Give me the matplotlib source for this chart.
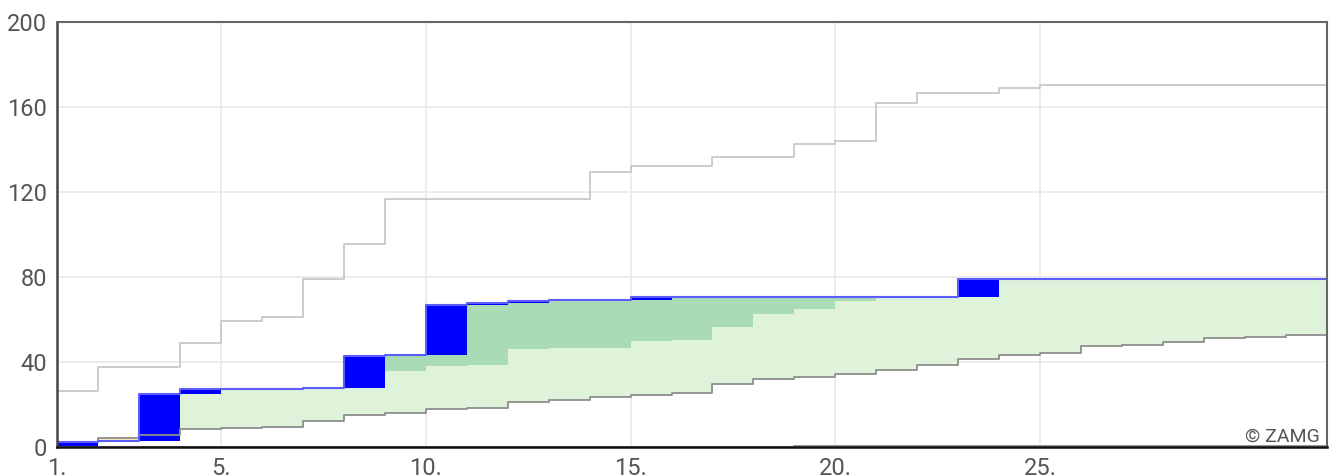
import matplotlib
matplotlib.use("Agg")
import matplotlib.pyplot as plt
import numpy as np

# Tage des Monats
days = np.arange(1, 32)

# aktuelle Niederschlagssumme (mm, kumuliert, Tagesende)
current = [2.5, 2.7, 24.8, 27.1, 27.4, 27.5, 27.6, 43.0, 43.1, 66.8,
           67.9, 68.7, 69.2, 69.4, 70.8, 70.8, 70.8, 70.8, 70.8, 70.8,
           70.8, 70.8, 79.1, 79.1, 79.1, 79.1, 79.1, 79.1, 79.1, 79.1, 79.1]

# Maximum (obere hellgraue Linie)
maximum = [26.2, 37.8, 37.8, 48.9, 59.3, 61.3, 79.2, 95.5, 116.7, 116.7,
           116.7, 116.7, 116.7, 129.3, 132.1, 132.1, 136.6, 136.6, 142.6, 144.1,
           161.9, 166.4, 166.4, 168.8, 170.5, 170.5, 170.5, 170.5, 170.5, 170.5, 170.5]

# Mittel (untere dunkelgraue Linie)
mean = [2.3, 4.4, 5.5, 8.3, 8.8, 9.3, 12.2, 15.1, 16.1, 17.7,
        18.2, 21.0, 22.0, 23.4, 24.5, 25.4, 29.5, 32.0, 32.9, 34.3,
        36.4, 38.7, 41.3, 43.3, 44.2, 47.4, 48.2, 49.4, 51.3, 51.9, 52.7]

# obere Grenze Normalbereich (nur als Flaechengrenze sichtbar)
upper = [6.0, 10.0, 14.0, 28.5, 29.5, 30.5, 32.0, 34.0, 35.9, 38.1,
         38.6, 46.1, 46.6, 46.6, 50.0, 50.5, 56.6, 62.5, 64.8, 68.6,
         72.0, 74.0, 77.0, 80.5, 82.5, 85.0, 87.0, 89.0, 91.0, 93.0, 95.0]

# Minimum (fast 0)
minimum = [0.0] * 18 + [0.6] * 13

xticks = [1, 5, 10, 15, 20, 25]
xlabels = ["1.", "5.", "10.", "15.", "20.", "25."]
yticks = [0, 40, 80, 120, 160, 200]

plt.rcParams['font.family'] = ['Roboto', 'DejaVu Sans']

cur = np.array(current)
mx = np.array(maximum)
mn = np.array(mean)
up = np.array(upper)
lo = np.array(minimum)
prev = np.concatenate([[0.0], cur[:-1]])

# step-Arrays bis Monatsende
xs = np.append(days, days[-1] + 1)
def ext(a):
    return np.append(a, a[-1])

fig = plt.figure(figsize=(13.35, 4.75), dpi=100)
ax = fig.add_axes([57 / 1335, 28 / 475, 1270 / 1335, 425 / 475])

ax.set_xlim(1, 32)
ax.set_ylim(0, 200)

for x in xticks[1:]:
    ax.axvline(x, color='#ebebeb', linewidth=1.3, zorder=0)
for y in yticks[1:-1]:
    ax.axhline(y, color='#ebebeb', linewidth=1.3, zorder=0)

# Flaechen
light_top = np.maximum(mn, np.minimum(cur, up))
ax.fill_between(xs, ext(mn), ext(light_top), step='post', color='#dff2da', linewidth=0, zorder=1)
ax.fill_between(xs, ext(up), ext(np.maximum(up, cur)), step='post', color='#a9dcb4', linewidth=0, zorder=1)
ax.fill_between(xs, ext(np.minimum(cur, mn)), ext(mn), step='post', color='#fbefb4', linewidth=0, zorder=1)

# Tagesniederschlag als Bloecke
ax.bar(days, cur - prev, bottom=prev, width=1, align='edge', color='#0000ff', linewidth=0, zorder=2)

# Linien
ax.step(xs, ext(mx), where='post', color='#c8c8c8', linewidth=1.3, zorder=3)
ax.step(xs, ext(mn), where='post', color='#8e8e8e', linewidth=1.3, zorder=3)
ax.step(xs, ext(lo), where='post', color='#8e8e8e', linewidth=1.3, zorder=3)
ax.step(xs, ext(cur), where='post', color='#5c5cff', linewidth=1.5, zorder=3)

ax.set_xticks(xticks)
ax.set_xticklabels(xlabels)
ax.set_yticks(yticks)
ax.tick_params(axis='both', length=0, labelsize=17, labelcolor='#555555')
ax.tick_params(axis='y', pad=7)
ax.tick_params(axis='x', pad=7)

for side in ['top', 'right']:
    ax.spines[side].set_color('#666666')
    ax.spines[side].set_linewidth(1.5)
ax.spines['left'].set_color('#444444')
ax.spines['left'].set_linewidth(1.8)
ax.spines['bottom'].set_color('#111111')
ax.spines['bottom'].set_linewidth(1.8)
for s in ax.spines.values():
    s.set_zorder(5)

ax.text(0.9945, 0.0125, '© ZAMG', transform=ax.transAxes, ha='right', va='baseline',
        fontsize=14, color='#555555', zorder=6)

fig.savefig('out.png', dpi=100)
